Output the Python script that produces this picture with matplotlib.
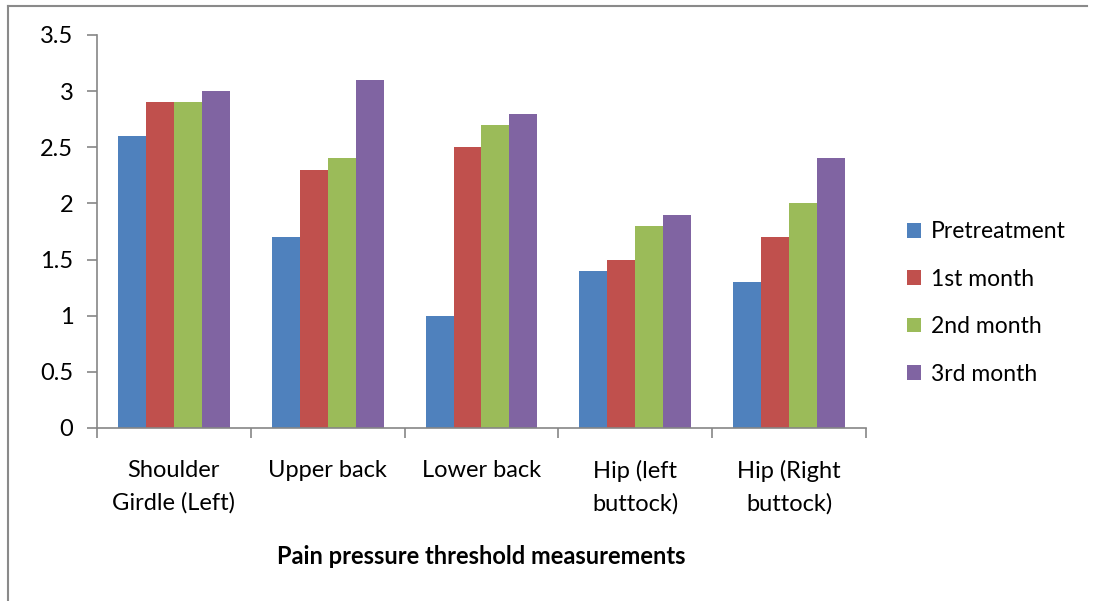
import matplotlib; matplotlib.use('Agg')
import matplotlib.pyplot as plt
from matplotlib.lines import Line2D
import numpy as np

plt.rcParams.update({'font.family': ['Lato', 'DejaVu Sans'], 'font.size': 17})

categories = ['Shoulder\nGirdle (Left)', 'Upper back', 'Lower back',
              'Hip (left\nbuttock)', 'Hip (Right\nbuttock)']
series = ['Pretreatment', '1st month', '2nd month', '3rd month']
pretreatment = [2.6, 1.7, 1.0, 1.4, 1.3]
month1 = [2.9, 2.3, 2.5, 1.5, 1.7]
month2 = [2.9, 2.4, 2.7, 1.8, 2.0]
month3 = [3.0, 3.1, 2.8, 1.9, 2.4]
colors = ['#4F81BD', '#C0504D', '#9BBB59', '#8064A2']

fig = plt.figure(figsize=(10.97, 6.01), dpi=100)
ax = fig.add_axes([0.0884, 0.2879, 0.7010, 0.6539])

x = np.arange(len(categories))
w = 1 / (4 + 1.5)
for i, (name, vals) in enumerate(zip(series, [pretreatment, month1, month2, month3])):
    ax.bar(x + (i - 1.5) * w, vals, width=w, color=colors[i], label=name)

ax.set_xlim(-0.5, len(categories) - 0.5)
ax.set_ylim(0, 3.5)
ax.set_yticks(np.arange(0, 3.51, 0.5))
ax.set_yticklabels(['0', '0.5', '1', '1.5', '2', '2.5', '3', '3.5'])
ax.set_xticks(x)
ax.set_xticklabels(categories, linespacing=1.65)
ax.set_xticks(np.arange(-0.5, len(categories)), minor=True)
ax.tick_params(axis='x', which='major', length=0, pad=23)
ax.tick_params(axis='x', which='minor', length=7, color='#868686', width=1.2)
ax.tick_params(axis='y', length=7, color='#868686', width=1.2, pad=10)
for s in ['top', 'right']:
    ax.spines[s].set_visible(False)
for s in ['left', 'bottom']:
    ax.spines[s].set_color('#868686')
    ax.spines[s].set_linewidth(1.2)

ax.set_xlabel('Pain pressure threshold measurements', fontweight='bold',
              fontsize=17, labelpad=22)

fig.legend(loc='center left', bbox_to_anchor=(0.808, 1 - 303 / 601), frameon=False,
           handlelength=0.6, handleheight=0.6, handletextpad=0.45,
           labelspacing=1.15, fontsize=16.5)

# outer frame lines (cropped chart border)
fig.add_artist(Line2D([0.0077, 0.991], [0.9908, 0.9908], color='#8a8a8a', lw=1.5))
fig.add_artist(Line2D([0.0077, 0.0077], [0, 0.9908], color='#8a8a8a', lw=1.5))

fig.savefig('out.png', dpi=100)
